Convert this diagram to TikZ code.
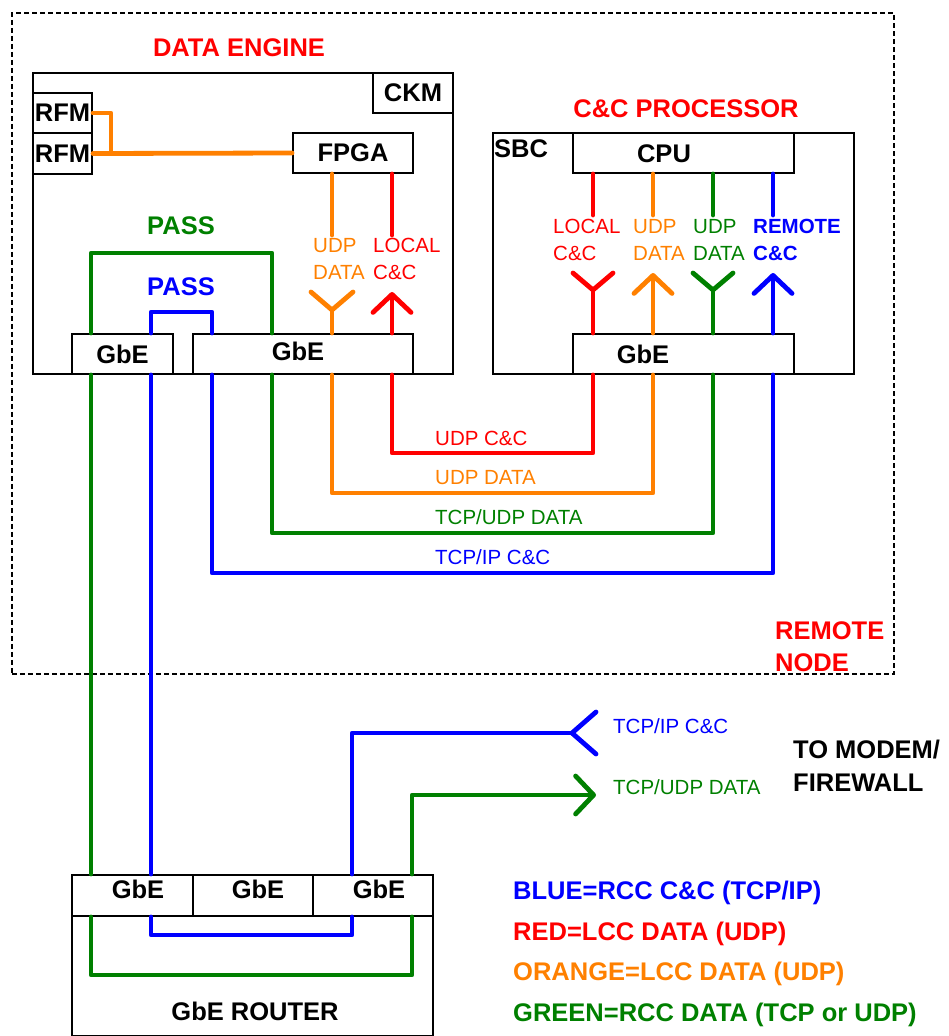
\documentclass[tikz,border=0pt]{standalone}
\usepackage{fontspec}
\setmainfont{Liberation Sans}
\usetikzlibrary{arrows.meta,positioning}
\definecolor{cred}{RGB}{255,0,0}
\definecolor{corange}{RGB}{255,128,0}
\definecolor{cgreen}{RGB}{0,128,0}
\definecolor{cblue}{RGB}{0,0,255}
\newcommand{\bfl}{\fontsize{25.5}{28}\selectfont\bfseries}
\newcommand{\sml}{\fontsize{20.5}{23}\selectfont}

\begin{document}
\begin{tikzpicture}[x=1pt, y=-1pt,
  box/.style={draw, line width=2pt, anchor=north west, inner sep=0pt, font=\bfl},
  bl/.style={font=\bfl, inner sep=0pt, text height=18.3pt, text depth=0pt},
  sl/.style={font=\sml, inner sep=0pt, text height=14.7pt, text depth=0pt, anchor=west},
  wire/.style={line width=4.8pt, line cap=round, line join=round},
  arr/.style={wire, -{Straight Barb[length=18pt, width=38pt, round]}}
]
\useasboundingbox (0,0) rectangle (948,1036);
% remote node
\node[box, dash pattern=on 5pt off 3pt, line width=1.8pt, minimum width=882, minimum height=661] (rn) at (11,12) {};
\node[bl, text=cred, anchor=west] (rem1) at (775,630) {REMOTE};
\node[bl, text=cred, below=13.7pt of rem1.south west, anchor=north west] (rem2) {NODE};
% data engine
\node[bl, text=cred] (detl) at (239,47) {DATA ENGINE};
\node[box, minimum width=420, minimum height=301] (de) at (32,72) {};
\node[box, minimum width=80, minimum height=40] (ckm) at (372,72) {CKM};
\node[box, minimum width=59, minimum height=40] (rfm1) at (32,92) {RFM};
\node[box, minimum width=59, minimum height=41] (rfm2) at (32,132) {RFM};
\node[box, minimum width=120, minimum height=40] (fpga) at (292,132) {FPGA};
\node[box, minimum width=101, minimum height=40] (ge1) at (71,333) {GbE};
\node[box, minimum width=220, minimum height=40] (ge2) at (192,333) {};
\node[bl] (ge2l) at (298,351) {GbE};
\node[bl, text=cgreen] (passg) at (181,225) {PASS};
\node[bl, text=cblue] (passb) at (181,286) {PASS};
\node[sl, text=corange] (udp1) at (313,245) {UDP};
\node[sl, text=corange, below=12.3pt of udp1.south west, anchor=north west] (data1) {DATA};
\node[sl, text=cred] (loc1) at (373,245) {LOCAL};
\node[sl, text=cred, below=12.3pt of loc1.south west, anchor=north west] (cc1) {C\&C};
% c&c processor
\node[bl, text=cred] (ccp) at (686,108) {C\&C PROCESSOR};
\node[box, minimum width=361, minimum height=241] (sbc) at (492,132) {};
\node[bl, anchor=west] (sbcl) at (494,148) {SBC};
\node[box, minimum width=221, minimum height=40] (cpu) at (572,132) {};
\node[bl] (cpul) at (664,153) {CPU};
\node[box, minimum width=221, minimum height=40] (sg) at (572,333) {};
\node[bl] (sgl) at (643,354) {GbE};
\node[sl, text=cred] (loc2) at (553,226) {LOCAL};
\node[sl, text=cred, below=12.3pt of loc2.south west, anchor=north west] (cc2) {C\&C};
\node[sl, text=corange] (udp2) at (633,226) {UDP};
\node[sl, text=corange, below=12.3pt of udp2.south west, anchor=north west] (data2) {DATA};
\node[sl, text=cgreen] (udp3) at (693,226) {UDP};
\node[sl, text=cgreen, below=12.3pt of udp3.south west, anchor=north west] (data3) {DATA};
\node[sl, font=\sml\bfseries, text=cblue] (remc) at (753,226) {REMOTE};
\node[sl, font=\sml\bfseries, text=cblue, below=12.3pt of remc.south west, anchor=north west] (cc3) {C\&C};
% link labels
\node[sl, text=cred] (lr) at (435,438) {UDP C\&C};
\node[sl, text=corange] (lo) at (435,477) {UDP DATA};
\node[sl, text=cgreen] (lg) at (435,517) {TCP/UDP DATA};
\node[sl, text=cblue] (lb) at (435,557) {TCP/IP C\&C};
% router
\node[box, minimum width=361, minimum height=161] (rt) at (71,874) {};
\node[box, minimum width=121, minimum height=41] (rg1) at (71,874) {};
\node[box, minimum width=120, minimum height=41] (rg2) at (192,874) {};
\node[box, minimum width=120, minimum height=41] (rg3) at (312,874) {};
\node[bl] (rg1l) at (138,889) {GbE};
\node[bl] (rg2l) at (258,889) {GbE};
\node[bl] (rg3l) at (379,889) {GbE};
\node[bl] (rtl) at (255,1011) {GbE ROUTER};
\node[sl, text=cblue] (outb) at (613,726) {TCP/IP C\&C};
\node[sl, text=cgreen] (outg) at (613,787) {TCP/UDP DATA};
\node[bl, anchor=west] (modem) at (793,749) {TO MODEM/};
\node[bl, below=14.7pt of modem.south west, anchor=north west] (fw) {FIREWALL};
% legend
\node[bl, text=cblue, anchor=west] (lg1) at (513,890) {BLUE=RCC C\&C (TCP/IP)};
\node[bl, text=cred, below=22.2pt of lg1.south west, anchor=north west] (lg2) {RED=LCC DATA (UDP)};
\node[bl, text=corange, below=22.2pt of lg2.south west, anchor=north west] (lg3) {ORANGE=LCC DATA (UDP)};
\node[bl, text=cgreen, below=22.2pt of lg3.south west, anchor=north west] (lg4) {GREEN=RCC DATA (TCP or UDP)};
% columns and rows of the wires
\coordinate (cA) at (91,0);  \coordinate (cB) at (151,0); \coordinate (cC) at (212,0);
\coordinate (cD) at (272,0); \coordinate (cE) at (332,0); \coordinate (cF) at (392,0);
\coordinate (sR) at (593,0); \coordinate (sO) at (653,0); \coordinate (sG) at (713,0);
\coordinate (sB) at (773,0); \coordinate (rC) at (352,0); \coordinate (rD) at (412,0);
\coordinate (pg) at (0,253); \coordinate (pb) at (0,312);
\coordinate (yR) at (0,453); \coordinate (yO) at (0,493); \coordinate (yG) at (0,533);
\coordinate (yB) at (0,573); \coordinate (yb2) at (0,935); \coordinate (yg2) at (0,975);
% rfm to fpga
\coordinate (jn) at (111,152);
\draw[wire, corange] (rfm2.east) -- (fpga.west);
\draw[wire, corange] (rfm1.east) -| (jn);
% pass loops
\draw[wire, cgreen] (ge1.north -| cA) |- (pg -| cD) -- (ge2.north -| cD);
\draw[wire, cblue] (ge1.north -| cB) |- (pb -| cC) -- (ge2.north -| cC);
% fpga to gbe
\draw[wire, corange] (fpga.south -| cE) -- ++(0,61);
\draw[wire, cred] (fpga.south -| cF) -- ++(0,61);
\coordinate (fo) at (332,310);
\draw[wire, corange] (ge2.north -| cE) -- (fo);
\draw[wire, corange] (fo) ++(-21,-18) -- (fo) -- ++(21,-18);
\coordinate (ar) at (392,292);
\draw[arr, cred] (ge2.north -| cF) -- (ar);
% cpu to gbe
\draw[wire, cred] (cpu.south -| sR) -- ++(0,41);
\draw[wire, corange] (cpu.south -| sO) -- ++(0,41);
\draw[wire, cgreen] (cpu.south -| sG) -- ++(0,41);
\draw[wire, cblue] (cpu.south -| sB) -- ++(0,41);
\coordinate (fr) at (593,290); \coordinate (fg) at (713,290);
\coordinate (ao) at (653,273); \coordinate (ab) at (773,273);
\draw[wire, cred] (sg.north -| sR) -- (fr);
\draw[wire, cred] (fr) ++(-20,-17) -- (fr) -- ++(20,-17);
\draw[arr, corange] (sg.north -| sO) -- (ao);
\draw[wire, cgreen] (sg.north -| sG) -- (fg);
\draw[wire, cgreen] (fg) ++(-20,-17) -- (fg) -- ++(20,-17);
\draw[arr, cblue] (sg.north -| sB) -- (ab);
% gbe to gbe
\draw[wire, cred] (ge2.south -| cF) |- (yR -| sR) -- (sg.south -| sR);
\draw[wire, corange] (ge2.south -| cE) |- (yO -| sO) -- (sg.south -| sO);
\draw[wire, cgreen] (ge2.south -| cD) |- (yG -| sG) -- (sg.south -| sG);
\draw[wire, cblue] (ge2.south -| cC) |- (yB -| sB) -- (sg.south -| sB);
% down to the router
\draw[wire, cgreen] (ge1.south -| cA) -- (rg1.north -| cA);
\draw[wire, cblue] (ge1.south -| cB) -- (rg1.north -| cB);
\draw[wire, cblue] (rg1.south -| cB) |- (yb2 -| rC) -- (rg3.south -| rC);
\draw[wire, cgreen] (rg1.south -| cA) |- (yg2 -| rD) -- (rg3.south -| rD);
% to modem
\coordinate (tb) at (572,733); \coordinate (tg) at (596,795);
\draw[wire, cblue] (rg3.north -| rC) |- (tb);
\draw[wire, cblue] (tb) ++(24,-21) -- (tb) -- ++(24,21);
\draw[arr, cgreen] (rg3.north -| rD) |- (tg);
\end{tikzpicture}
\end{document}
